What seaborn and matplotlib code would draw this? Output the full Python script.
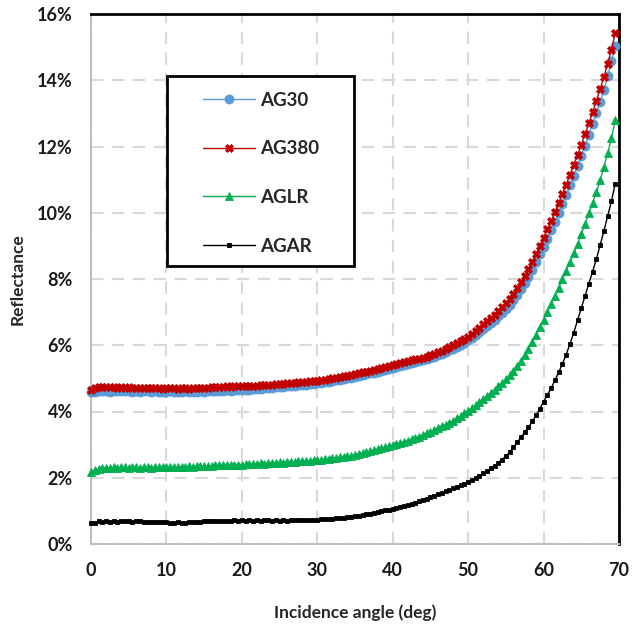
import numpy as np
import pandas as pd
import seaborn as sns
import matplotlib.pyplot as plt
from matplotlib.patches import Rectangle
from matplotlib.ticker import FuncFormatter

angle = np.arange(0, 70, 0.5)

ag30 = [4.58, 4.60, 4.62, 4.61, 4.62, 4.60, 4.62, 4.61, 4.63, 4.61,
        4.62, 4.60, 4.61, 4.60, 4.62, 4.61, 4.60, 4.61, 4.60, 4.59,
        4.60, 4.61, 4.60, 4.59, 4.60, 4.61, 4.60, 4.59, 4.60, 4.61,
        4.60, 4.61, 4.62, 4.61, 4.63, 4.62, 4.64, 4.63, 4.65, 4.64,
        4.65, 4.66, 4.66, 4.67, 4.68, 4.69, 4.70, 4.70, 4.72, 4.73,
        4.74, 4.75, 4.76, 4.77, 4.78, 4.79, 4.80, 4.81, 4.82, 4.84,
        4.85, 4.87, 4.88, 4.90, 4.92, 4.94, 4.96, 4.98, 5.00, 5.02,
        5.05, 5.07, 5.10, 5.12, 5.15, 5.17, 5.20, 5.23, 5.26, 5.28,
        5.31, 5.34, 5.37, 5.40, 5.43, 5.46, 5.49, 5.52, 5.55, 5.58,
        5.62, 5.66, 5.70, 5.75, 5.80, 5.85, 5.90, 5.96, 6.02, 6.08,
        6.15, 6.23, 6.31, 6.40, 6.49, 6.58, 6.67, 6.77, 6.87, 6.98,
        7.10, 7.23, 7.37, 7.52, 7.69, 7.87, 8.07, 8.28, 8.50, 8.74,
        8.98, 9.22, 9.47, 9.73, 10.00, 10.27, 10.54, 10.83, 11.12, 11.42,
        11.72, 12.03, 12.35, 12.67, 13.00, 13.34, 13.70, 14.12, 14.57, 15.03]

ag380 = [4.65, 4.72, 4.75, 4.74, 4.74, 4.73, 4.75, 4.72, 4.73, 4.72,
         4.73, 4.71, 4.72, 4.70, 4.71, 4.72, 4.70, 4.71, 4.71, 4.69,
         4.70, 4.71, 4.70, 4.69, 4.70, 4.71, 4.69, 4.70, 4.71, 4.70,
         4.72, 4.71, 4.73, 4.74, 4.75, 4.74, 4.76, 4.75, 4.77, 4.76,
         4.77, 4.76, 4.78, 4.77, 4.78, 4.79, 4.80, 4.79, 4.81, 4.82,
         4.83, 4.84, 4.85, 4.86, 4.87, 4.88, 4.89, 4.90, 4.91, 4.92,
         4.93, 4.95, 4.96, 4.98, 5.00, 5.02, 5.04, 5.06, 5.08, 5.10,
         5.13, 5.15, 5.18, 5.20, 5.23, 5.25, 5.28, 5.31, 5.34, 5.36,
         5.39, 5.42, 5.45, 5.48, 5.51, 5.54, 5.57, 5.60, 5.63, 5.66,
         5.70, 5.74, 5.79, 5.84, 5.89, 5.94, 6.00, 6.06, 6.12, 6.19,
         6.26, 6.35, 6.44, 6.53, 6.63, 6.72, 6.82, 6.92, 7.02, 7.14,
         7.27, 7.41, 7.56, 7.72, 7.90, 8.09, 8.30, 8.52, 8.75, 9.00,
         9.25, 9.50, 9.75, 10.02, 10.30, 10.57, 10.85, 11.15, 11.45, 11.75,
         12.05, 12.37, 12.70, 13.04, 13.38, 13.74, 14.10, 14.50, 14.92, 15.42]

aglr = [2.18, 2.22, 2.26, 2.28, 2.30, 2.29, 2.31, 2.30, 2.32, 2.31,
        2.30, 2.32, 2.31, 2.30, 2.32, 2.31, 2.30, 2.32, 2.31, 2.32,
        2.31, 2.33, 2.32, 2.31, 2.33, 2.32, 2.34, 2.33, 2.35, 2.34,
        2.35, 2.36, 2.35, 2.37, 2.38, 2.37, 2.39, 2.38, 2.40, 2.39,
        2.40, 2.41, 2.42, 2.41, 2.43, 2.44, 2.43, 2.45, 2.46, 2.45,
        2.47, 2.46, 2.48, 2.49, 2.48, 2.50, 2.51, 2.50, 2.52, 2.53,
        2.53, 2.54, 2.56, 2.57, 2.59, 2.60, 2.62, 2.64, 2.65, 2.67,
        2.70, 2.72, 2.75, 2.77, 2.80, 2.83, 2.86, 2.89, 2.92, 2.95,
        2.99, 3.02, 3.05, 3.08, 3.12, 3.16, 3.20, 3.24, 3.29, 3.34,
        3.39, 3.44, 3.49, 3.55, 3.60, 3.66, 3.72, 3.79, 3.86, 3.94,
        4.02, 4.11, 4.20, 4.29, 4.38, 4.47, 4.57, 4.66, 4.76, 4.86,
        4.97, 5.09, 5.22, 5.37, 5.52, 5.70, 5.90, 6.10, 6.32, 6.54,
        6.77, 7.01, 7.25, 7.49, 7.74, 7.99, 8.25, 8.51, 8.78, 9.06,
        9.35, 9.66, 9.98, 10.30, 10.62, 10.98, 11.38, 11.80, 12.25, 12.80]

agar = [0.62, 0.64, 0.68, 0.66, 0.68, 0.67, 0.69, 0.67, 0.68, 0.69,
        0.68, 0.67, 0.69, 0.68, 0.67, 0.66, 0.67, 0.66, 0.66, 0.65,
        0.66, 0.64, 0.63, 0.65, 0.63, 0.64, 0.66, 0.65, 0.67, 0.66,
        0.68, 0.69, 0.68, 0.70, 0.69, 0.70, 0.69, 0.70, 0.71, 0.70,
        0.71, 0.70, 0.71, 0.70, 0.71, 0.70, 0.72, 0.71, 0.70, 0.71,
        0.70, 0.71, 0.70, 0.71, 0.72, 0.71, 0.72, 0.72, 0.73, 0.73,
        0.73, 0.74, 0.74, 0.75, 0.76, 0.77, 0.78, 0.79, 0.81, 0.82,
        0.84, 0.86, 0.88, 0.90, 0.92, 0.94, 0.97, 0.99, 1.02, 1.04,
        1.07, 1.09, 1.12, 1.15, 1.18, 1.21, 1.25, 1.29, 1.33, 1.37,
        1.41, 1.45, 1.50, 1.54, 1.59, 1.63, 1.68, 1.72, 1.77, 1.82,
        1.88, 1.94, 2.00, 2.06, 2.13, 2.20, 2.28, 2.36, 2.45, 2.55,
        2.65, 2.78, 2.92, 3.07, 3.22, 3.37, 3.52, 3.70, 3.88, 4.08,
        4.30, 4.50, 4.70, 4.94, 5.18, 5.44, 5.72, 6.04, 6.38, 6.75,
        7.12, 7.49, 7.86, 8.22, 8.60, 9.02, 9.45, 9.90, 10.35, 10.88]

series = {
    "AG30": (ag30, "#5B9BD5", "o", 6.5),
    "AG380": (ag380, "#C00000", "X", 5.5),
    "AGLR": (aglr, "#00B050", "^", 5.5),
    "AGAR": (agar, "#000000", "s", 3.2),
}

sns.set_style("white")
plt.rcParams["font.family"] = ["Lato", "DejaVu Sans"]

fig = plt.figure(figsize=(6.33, 6.24), dpi=100)
ax = fig.add_axes([91 / 633, 80 / 624, 528 / 633, 530 / 624])

for name, (vals, color, marker, ms) in series.items():
    df = pd.DataFrame({"angle": angle, "R": vals})
    sns.lineplot(data=df, x="angle", y="R", ax=ax, color=color, marker=marker,
                 markersize=ms, markeredgecolor=color, markeredgewidth=0.6,
                 linewidth=1.0, label=name, clip_on=False, zorder=3)

ax.set_xlim(0, 70)
ax.set_ylim(0, 16)
ax.set_xticks(range(0, 71, 10))
ax.set_yticks(range(0, 17, 2))
ax.yaxis.set_major_formatter(FuncFormatter(lambda v, p: f"{v:.0f}%"))
ax.grid(True, color="#D9D9D9", linestyle=(0, (6, 4)), linewidth=1.5)
ax.set_axisbelow(True)
ax.tick_params(length=0, labelsize=13, colors="#1a1a1a", pad=13)
for lab in ax.get_xticklabels() + ax.get_yticklabels():
    lab.set_fontweight("bold")

for side in ["left", "bottom"]:
    ax.spines[side].set_color("#BFBFBF")
    ax.spines[side].set_linewidth(1.5)
for side in ["top", "right"]:
    ax.spines[side].set_color("black")
    ax.spines[side].set_linewidth(2)

ax.set_xlabel("Incidence angle (deg)", fontsize=12.5, fontweight="bold", labelpad=18)
ax.set_ylabel("Reflectance", fontsize=12.5, fontweight="bold", labelpad=8)

# legend box
ax.add_patch(Rectangle((76 / 528, 278 / 530), 187 / 528, 190 / 530, transform=ax.transAxes,
                       facecolor="white", edgecolor="black", linewidth=2, zorder=4))
leg = ax.legend(loc="upper left", bbox_to_anchor=(112 / 528, 452 / 530), frameon=False,
                handlelength=2.77, handletextpad=0.3, labelspacing=1.68,
                borderpad=0, borderaxespad=0, prop={"weight": "bold", "size": 13.5})
leg.set_zorder(5)

fig.savefig("out.png", dpi=100)
